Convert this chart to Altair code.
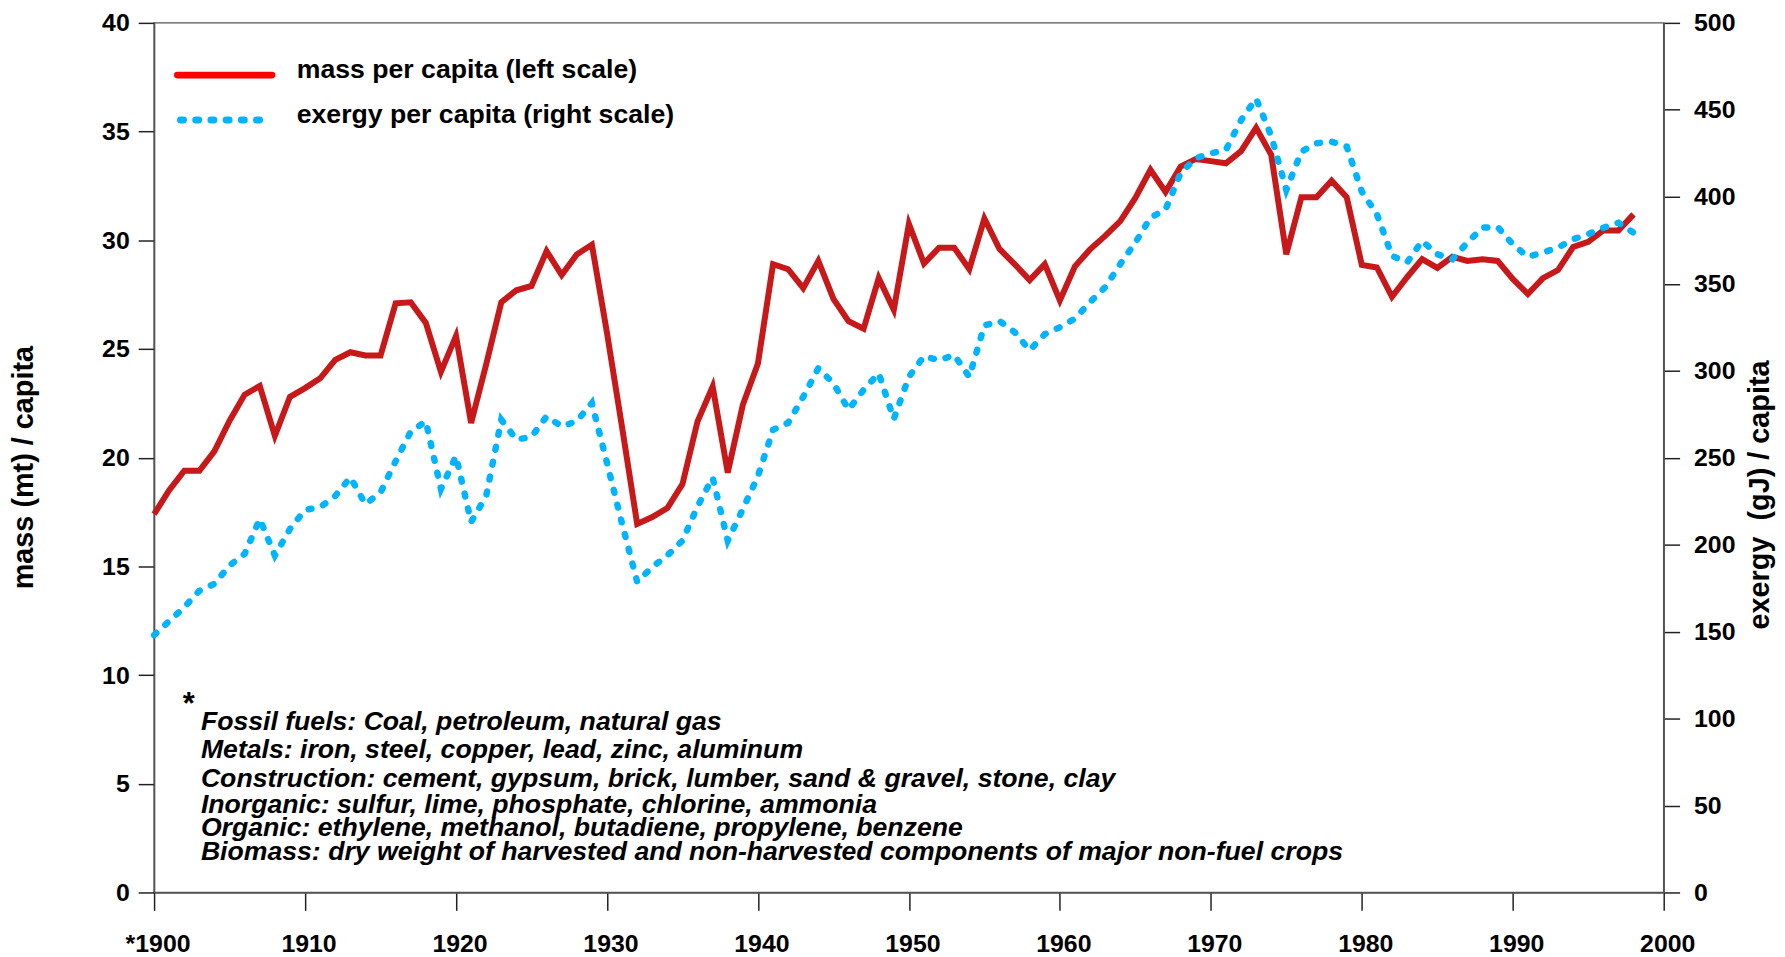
import altair as alt
import pandas as pd

years = list(range(1900, 1999))

mass = [
    17.4, 18.5, 19.4, 19.4, 20.3, 21.7, 22.9, 23.3, 21.0, 22.8,
    23.2, 23.65, 24.5, 24.85, 24.7, 24.7, 27.1, 27.15, 26.2, 23.95,
    25.6, 21.6, 24.3, 27.15, 27.7, 27.9, 29.5, 28.4, 29.35, 29.8,
    25.75, 21.4, 16.95, 17.27, 17.68, 18.78, 21.67, 23.27, 19.31, 22.43,
    24.33, 28.9, 28.67, 27.8, 29.05, 27.3, 26.28, 25.93, 28.26, 26.8,
    30.75, 28.93, 29.66, 29.66, 28.67, 31.0, 29.6, 28.9, 28.17, 28.9,
    27.23, 28.8, 29.58, 30.2, 30.88, 31.95, 33.24, 32.22, 33.39, 33.74,
    33.64, 33.54, 34.1, 35.17, 33.93, 29.36, 31.98, 31.98, 32.74, 31.98,
    28.87, 28.75, 27.4, 28.3, 29.13, 28.73, 29.24, 29.05, 29.13, 29.05,
    28.22, 27.53, 28.26, 28.63, 29.69, 29.93, 30.45, 30.45, 31.19,
]

exergy = [
    148, 156, 164, 173.5, 177.5, 188, 194.7, 214.7, 193.8, 209,
    220, 221.5, 228, 238.7, 223.3, 230, 248, 265, 270.9, 232,
    250.9, 213, 228, 271.8, 260.4, 262, 273.7, 268, 271, 281.4,
    247, 212, 178.6, 187.1, 193.8, 202.3, 222, 238.5, 202.3, 220.4,
    239.4, 266, 270, 285, 301.4, 292.8, 277.6, 289, 298.5, 272.2,
    296.5, 308.4, 306, 309, 296.5, 326, 328.6, 322.2, 311.8, 321,
    325, 330, 339.4, 348, 361.3, 373.7, 388, 392.7, 413.6, 422.2,
    425, 427, 444, 456.5, 435, 404, 426, 430.8, 431.7, 428.9,
    403, 390, 366, 362.3, 374.6, 367, 364.1, 373.7, 382.3, 382.6,
    372.7, 365.5, 368, 370.8, 375.6, 378.5, 382.2, 385.1, 379.4,
]

x_ticks = list(range(1900, 2001, 10))
mass_ticks = list(range(0, 41, 5))
exergy_ticks = list(range(0, 501, 50))

legend_labels = ["mass per capita (left scale)", "exergy per capita (right scale)"]

notes = [
    "Fossil fuels: Coal, petroleum, natural gas",
    "Metals: iron, steel, copper, lead, zinc, aluminum",
    "Construction: cement, gypsum, brick, lumber, sand & gravel, stone, clay",
    "Inorganic: sulfur, lime, phosphate, chlorine, ammonia",
    "Organic: ethylene, methanol, butadiene, propylene, benzene",
    "Biomass: dry weight of harvested and non-harvested components of major non-fuel crops",
]

FONT = "Liberation Sans, Arial, sans-serif"

df = pd.DataFrame({"year": years, "mass": mass, "exergy": exergy})

xscale = alt.Scale(domain=[1900, 2000], nice=False, zero=False)
mscale = alt.Scale(domain=[0, 40], nice=False)
escale = alt.Scale(domain=[0, 500], nice=False)

x_axis = alt.Axis(
    values=x_ticks, format="d", title=None,
    labelExpr="datum.value == 1900 ? '\u00a0\u00a0\u00a0\u00a0*1900' : datum.label",
    tickSize=18, labelPadding=21, labelOffset=3.5, labelFontSize=25,
    labelFont=FONT, labelFontWeight="bold", labelColor="#000",
    domainColor="#555", domainWidth=1.5, tickColor="#222", tickWidth=1.5,
    grid=False, labelFlush=False,
)


def X(field):
    return alt.X(field, scale=xscale, axis=x_axis, title=None)


red = alt.Chart(df).mark_line(color="#C8191A", strokeWidth=6).encode(
    x=X("year:Q"),
    y=alt.Y("mass:Q", scale=mscale, axis=alt.Axis(
        orient="left", values=mass_ticks, title="mass (mt) / capita",
        tickSize=16, labelPadding=9, labelFontSize=25, labelFont=FONT,
        labelFontWeight="bold", labelColor="#000",
        domainColor="#555", domainWidth=1.5, tickColor="#222", tickWidth=1.5,
        grid=False, labelFlush=False,
        titleFont=FONT, titleFontSize=29, titleFontWeight="bold", titleColor="#000",
        titleAngle=270, titleBaseline="alphabetic", titleAlign="center",
        titleX=-122, titleY=447,
    )),
)

blue = alt.Chart(df).mark_line(
    color="#00B4FF", strokeWidth=6.5, strokeDash=[3, 12.3], strokeCap="round"
).encode(
    x=X("year:Q"),
    y=alt.Y("exergy:Q", scale=escale, axis=alt.Axis(
        orient="right", values=exergy_ticks, title="exergy\u00a0 (gJ) / capita",
        tickSize=16, labelPadding=14, labelFontSize=25, labelFont=FONT,
        labelFontWeight="bold", labelColor="#000",
        domainColor="#555", domainWidth=1.5, tickColor="#222", tickWidth=1.5,
        grid=False, labelFlush=False,
        titleFont=FONT, titleFontSize=29, titleFontWeight="bold", titleColor="#000",
        titleAngle=270, titleBaseline="alphabetic", titleAlign="center",
        titleX=105, titleY=474.5,
    )),
)

# legend swatches
leg_red = alt.Chart(pd.DataFrame({"x1": [1901.54], "x2": [1907.81], "y": [37.6]})).mark_rule(
    color="#FF0000", strokeWidth=6.7, strokeCap="round"
).encode(
    x=X("x1:Q"), x2="x2:Q",
    y=alt.Y("y:Q", scale=mscale, axis=None),
)
leg_blue = alt.Chart(pd.DataFrame({"x1": [1901.75], "x2": [1907.1], "y": [35.53]})).mark_rule(
    color="#00B4FF", strokeWidth=7, strokeCap="round", strokeDash=[3, 12.3]
).encode(
    x=X("x1:Q"), x2="x2:Q",
    y=alt.Y("y:Q", scale=mscale, axis=None),
)
leg_text = alt.Chart(pd.DataFrame({
    "x": [1909.45, 1909.45], "y": [37.45, 35.39], "t": legend_labels
})).mark_text(
    align="left", baseline="alphabetic", font=FONT, fontSize=26.8,
    fontWeight="bold", color="#000"
).encode(
    x=X("x:Q"),
    y=alt.Y("y:Q", scale=mscale, axis=None),
    text="t:N",
)

star = alt.Chart(pd.DataFrame({"x": [1902.3], "y": [8.22], "t": ["*"]})).mark_text(
    align="center", baseline="alphabetic", font=FONT, fontSize=31,
    fontWeight="bold", color="#000"
).encode(
    x=X("x:Q"),
    y=alt.Y("y:Q", scale=mscale, axis=None),
    text="t:N",
)

note_df = pd.DataFrame({
    "x": [1903.1] * len(notes),
    "y": [7.47, 6.17, 4.84, 3.65, 2.60, 1.48],
    "t": notes,
})
note_text = alt.Chart(note_df).mark_text(
    align="left", baseline="alphabetic", font=FONT, fontSize=26.8,
    fontWeight="bold", fontStyle="italic", color="#000"
).encode(
    x=X("x:Q"),
    y=alt.Y("y:Q", scale=mscale, axis=None),
    text="t:N",
)

chart = alt.layer(
    red, blue, leg_red, leg_blue, leg_text, star, note_text
).resolve_scale(y="independent").properties(
    width=1519, height=875,
    autosize=alt.AutoSizeParams(type="none"),
    padding={"left": 147, "top": 12, "right": 114, "bottom": 66},
    background="#ffffff",
).configure_view(stroke="#555", strokeWidth=1.5)

chart.save("out.html", embed_options={"renderer": "svg", "actions": False})
